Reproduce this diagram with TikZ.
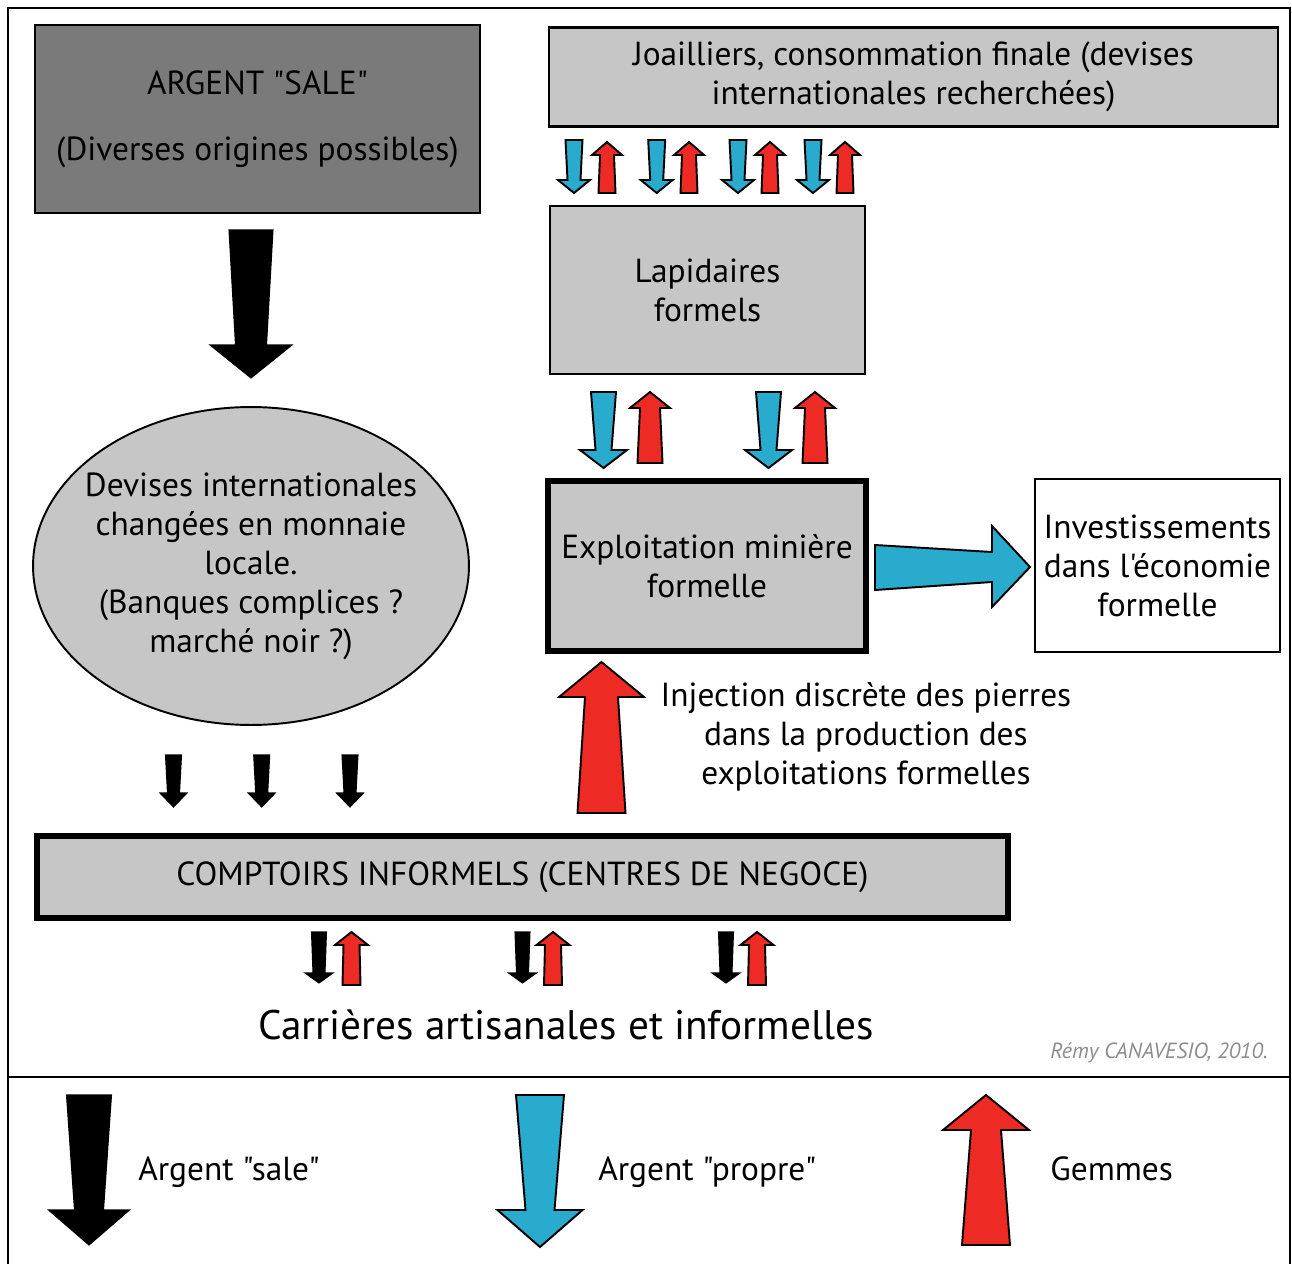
\documentclass[tikz,border=0pt]{standalone}
\usepackage{fontspec}
\newfontfamily\myriad{PT Sans}
\usepackage{tikz}
\usetikzlibrary{positioning,shapes.geometric}

\definecolor{boxgray}{HTML}{C6C6C6}
\definecolor{salegray}{HTML}{7A7A7A}
\definecolor{propre}{HTML}{29ABCE}
\definecolor{gemme}{HTML}{EE2A24}

\newcommand{\lbl}{\myriad\fontsize{19}{22.2}\selectfont}

% block arrow: style, x, y tail, y neck, y tip, tail half width, neck half width, head half width
\newcommand{\flecheV}[8]{%
  \draw[#1] ({#2-#6},#3) -- ({#2-#7},#4) -- ({#2-#8},#4) -- (#2,#5)
    -- ({#2+#8},#4) -- ({#2+#7},#4) -- ({#2+#6},#3) -- cycle;}

\begin{document}
\begin{tikzpicture}[
    x=0.02cm, y=-0.02cm,
    box/.style={rectangle, draw=black, fill=boxgray, line width=1.6pt, align=center, font=\lbl, inner sep=0pt},
    heavy/.style={box, line width=3.6pt},
    txt/.style={align=center, font=\lbl, inner sep=0pt},
    sale/.style={fill=black, draw=black, line width=0.6pt},
    propre/.style={fill=propre, draw=black, line width=1.1pt},
    gemme/.style={fill=gemme, draw=black, line width=1.1pt}
]
\useasboundingbox (0,0) rectangle (1292,1264);

% Frame and legend divider
\draw[line width=1.2pt] (8,1264) |- (1290,8) -- (1290,1264);
\draw[line width=1.2pt] (8,1077) -- (1290,1077);

% Left column: dirty money
\node[box, fill=salegray, minimum width=8.9cm, minimum height=3.76cm] (sale) at (257.5,119)
    {ARGENT "SALE"\\[0.54cm](Diverses origines possibles)};
\flecheV{sale}{251}{230}{345}{378}{22}{15.5}{41}
\node[ellipse, draw=black, fill=boxgray, line width=1.1pt, minimum width=8.72cm, minimum height=6.36cm] (devises) at (251,566) {};
\node[txt] (devisestxt) at (devises.center)
    {Devises internationales\\changées en monnaie\\locale.\\(Banques complices ?\\marché noir ?)};
\foreach \x in {173.5,261.7,350}
  \flecheV{sale}{\x}{755}{793}{807}{8}{6}{13.5};

% Trading posts
\node[heavy, minimum width=19.42cm, minimum height=1.64cm] (comptoirs) at (522.5,877)
    {COMPTOIRS INFORMELS (CENTRES DE NEGOCE)};
\foreach \x in {319,522.5,726}
  \flecheV{sale}{\x}{932}{973}{983}{7.5}{6}{14};
\foreach \x in {351.5,553,757}
  \flecheV{gemme}{\x}{985}{945}{932}{9}{8}{16.5};
\node[txt, font=\myriad\fontsize{23.5}{28}\selectfont] (carrieres) at (566,1025)
    {Carrières artisanales et informelles};
\node[txt, anchor=east, font=\myriad\itshape\fontsize{12.5}{15}\selectfont, text=black!45] (credit) at (1268,1053)
    {Rémy CANAVESIO, 2010.};

% Right column: formal circuit
\node[box, minimum width=14.58cm, minimum height=1.98cm] (joailliers) at (913.5,77)
    {Joailliers, consommation finale (devises\\internationales recherchées)};
\foreach \x in {574,656.7,738,813}
  \flecheV{propre}{\x}{140}{180}{193}{8.5}{6.5}{16};
\foreach \x in {607,689,770,845}
  \flecheV{gemme}{\x}{193}{155}{142}{8.5}{7}{15};
\node[box, minimum width=6.3cm, minimum height=3.36cm] (lapidaires) at (707.5,290)
    {Lapidaires\\formels};
\foreach \x in {603.5,768.5}
  \flecheV{propre}{\x}{392}{450}{468}{12.5}{8}{23.5};
\foreach \x in {650,815}
  \flecheV{gemme}{\x}{463}{408}{392}{12.5}{10}{20};
\node[heavy, minimum width=6.36cm, minimum height=3.4cm] (exploitation) at (707,566)
    {Exploitation minière\\formelle};
\draw[propre] (875,545) -- (992,552) -- (992,526) -- (1030,567) -- (992,607) -- (992,582) -- (875,590) -- cycle;
\node[box, fill=white, line width=1.1pt, minimum width=4.9cm, minimum height=3.46cm] (investissements) at (1157.5,565.5)
    {Investissements\\dans l'économie\\formelle};
\flecheV{gemme}{601.5}{813}{697}{662}{24}{16.5}{42.5}
\node[txt] (injection) at (866,737)
    {Injection discrète des pierres\\dans la production des\\exploitations formelles};

% Legend
\flecheV{sale}{89}{1095}{1210}{1245}{22.5}{14.5}{40.5}
\node[txt, anchor=base west] (legsale) at (138,1180) {Argent "sale"};
\flecheV{propre}{540}{1095}{1210}{1247}{24}{14.5}{42.5}
\node[txt, anchor=base west] (legpropre) at (598,1180) {Argent "propre"};
\flecheV{gemme}{986}{1245}{1130}{1095}{24}{15}{43}
\node[txt, anchor=base west] (leggemme) at (1050,1180) {Gemmes};

\end{tikzpicture}
\end{document}
